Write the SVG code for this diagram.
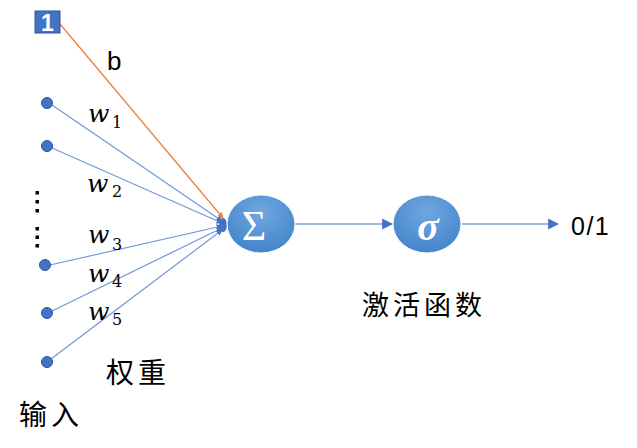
<svg xmlns="http://www.w3.org/2000/svg" width="637" height="448" viewBox="0 0 637 448">
<style>
.wl{stroke:#7097dc;stroke-width:1.2;fill:none}
.dot{fill:#4472c4;stroke:#2f5597;stroke-width:1}
.w{font-family:"DejaVu Serif",serif;font-style:italic;font-size:25px;fill:#000}
.sub{font-family:"DejaVu Serif",serif;font-size:16px;fill:#000}
.cjk{font-family:"Noto Sans CJK SC",sans-serif;fill:#000}
.node{stroke:#fff;stroke-width:1}
</style>
<defs>
<radialGradient id="g" cx="0.5" cy="0.3" r="0.8">
<stop offset="0" stop-color="#6fa8e0"/>
<stop offset="1" stop-color="#3f7fc8"/>
</radialGradient>
<marker id="ab" viewBox="0 0 10 10" refX="9" refY="5" markerWidth="6" markerHeight="6" orient="auto" markerUnits="userSpaceOnUse">
<path d="M0,0 L10,5 L0,10 Z" fill="#4472c4"/>
</marker>
<marker id="ao" viewBox="0 0 10 10" refX="9" refY="5" markerWidth="6" markerHeight="6" orient="auto" markerUnits="userSpaceOnUse">
<path d="M0,0 L10,5 L0,10 Z" fill="#ed7d31"/>
</marker>
<marker id="arr" viewBox="0 0 10 10" refX="9" refY="5" markerWidth="11" markerHeight="11" orient="auto" markerUnits="userSpaceOnUse">
<path d="M0,0 L10,5 L0,10 Z" fill="#4472c4"/>
</marker>
</defs>
<g id="connectors">
<line x1="60" y1="24" x2="223" y2="218" stroke="#ed7d31" stroke-width="1.2" marker-end="url(#ao)"/>
<line class="wl" x1="52" y1="105" x2="222" y2="221" marker-end="url(#ab)"/>
<line class="wl" x1="52" y1="148" x2="222" y2="223" marker-end="url(#ab)"/>
<line class="wl" x1="50" y1="265" x2="222" y2="226" marker-end="url(#ab)"/>
<line class="wl" x1="52" y1="311" x2="222" y2="228" marker-end="url(#ab)"/>
<line class="wl" x1="51" y1="359" x2="222" y2="230" marker-end="url(#ab)"/>
<ellipse cx="223" cy="225" rx="4" ry="7" fill="#4472c4"/>
<line x1="295" y1="224" x2="392" y2="224" stroke="#4472c4" stroke-width="1.2" marker-end="url(#arr)"/>
<line x1="462" y1="224" x2="558" y2="224" stroke="#4472c4" stroke-width="1.2" marker-end="url(#arr)"/>
</g>
<g id="bias">
<rect x="35" y="11" width="25" height="22" fill="#4472c4" stroke="#2f5597" stroke-width="1"/>
<text x="47.5" y="31" text-anchor="middle" font-family="Liberation Sans,sans-serif" font-weight="bold" font-size="23" fill="#fff">1</text>
</g>
<g id="inputs">
<circle class="dot" cx="47" cy="103" r="5.5"/>
<circle class="dot" cx="47" cy="146" r="5.5"/>
<circle class="dot" cx="45" cy="265" r="5.5"/>
<circle class="dot" cx="47" cy="313" r="5.5"/>
<circle class="dot" cx="47" cy="362" r="5.5"/>
<g fill="#000">
<rect x="35.5" y="191" width="3.5" height="3.5"/>
<rect x="35.5" y="200" width="3.5" height="3.5"/>
<rect x="35.5" y="209" width="3.5" height="3.5"/>
<rect x="35.5" y="227" width="3.5" height="3.5"/>
<rect x="35.5" y="235.5" width="3.5" height="3.5"/>
<rect x="35.5" y="244" width="3.5" height="3.5"/>
</g>
</g>
<g id="labels">
<text x="107" y="70" font-family="Liberation Sans,sans-serif" font-size="26" fill="#000">b</text>
<text class="w" x="88" y="122">w</text><text class="sub" x="112" y="128">1</text>
<text class="w" x="87" y="192">w</text><text class="sub" x="112" y="197">2</text>
<text class="w" x="88" y="243">w</text><text class="sub" x="112" y="250">3</text>
<text class="w" x="88" y="282">w</text><text class="sub" x="112" y="287">4</text>
<text class="w" x="88" y="320">w</text><text class="sub" x="112" y="325">5</text>
<text class="cjk" x="106" y="383" font-size="28" letter-spacing="4">权重</text>
<text class="cjk" x="19" y="425" font-size="28" letter-spacing="4">输入</text>
<text class="cjk" x="362" y="315" font-size="27" letter-spacing="4">激活函数</text>
<text x="571" y="235" font-family="Liberation Sans,sans-serif" font-size="25" letter-spacing="1.5" fill="#000">0/1</text>
</g>
<g id="sum">
<ellipse class="node" cx="261" cy="224" rx="34" ry="29" fill="url(#g)"/>
<text x="254" y="240" text-anchor="middle" font-family="Liberation Serif,serif" font-size="42" fill="#fff">Σ</text>
</g>
<g id="activation">
<ellipse class="node" cx="427" cy="224" rx="34" ry="29" fill="url(#g)"/>
<text x="428" y="240" text-anchor="middle" font-family="Liberation Serif,serif" font-style="italic" font-weight="bold" font-size="40" fill="#fff">σ</text>
</g>
</svg>
